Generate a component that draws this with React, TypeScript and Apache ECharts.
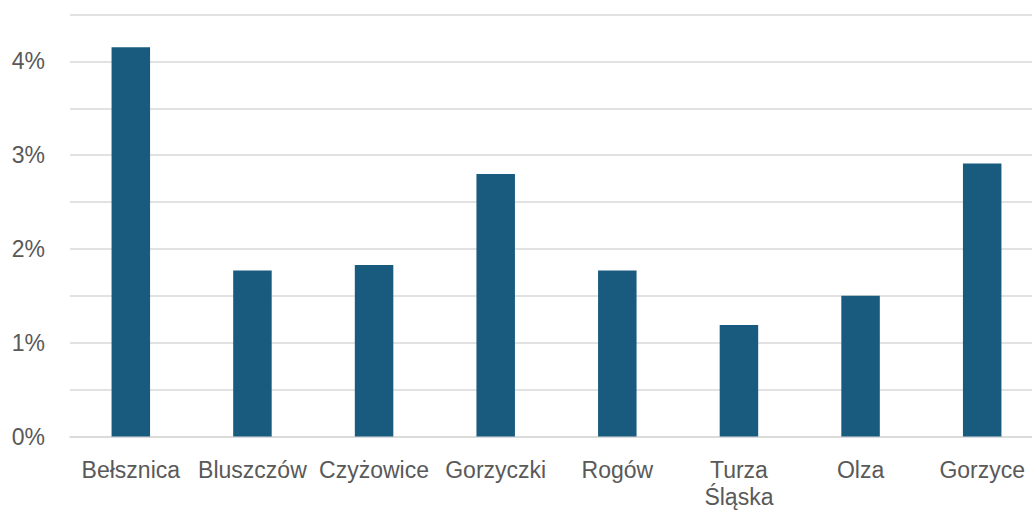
import React, { useEffect, useRef } from "react";
import * as echarts from "echarts";

const categories = ["Bełsznica", "Bluszczów", "Czyżowice", "Gorzyczki", "Rogów", "Turza\nŚląska", "Olza", "Gorzyce"];
const values = [4.15, 1.77, 1.83, 2.8, 1.77, 1.19, 1.5, 2.91];
const yTicks = { min: 0, max: 4.5, interval: 0.5 };

export default function App() {
  const ref = useRef<HTMLDivElement>(null);
  useEffect(() => {
    document.body.style.margin = "0";
    document.body.style.overflow = "hidden";
    const chart = echarts.init(ref.current!, null, { renderer: "svg" });
    chart.setOption({
      animation: false,
      backgroundColor: "#ffffff",
      grid: { left: 70, right: 0, top: 14.5, bottom: 78.5, containLabel: false },
      xAxis: {
        type: "category",
        data: categories,
        axisLine: { show: true, lineStyle: { color: "#d9d9d9", width: 1.5 } },
        axisTick: { show: false },
        axisLabel: {
          color: "#595959",
          fontFamily: "Liberation Sans",
          fontSize: 23,
          lineHeight: 27,
          margin: 20,
          interval: 0,
        },
      },
      yAxis: {
        type: "value",
        min: yTicks.min,
        max: yTicks.max,
        interval: yTicks.interval,
        axisLine: { show: false },
        axisTick: { show: false },
        splitLine: { lineStyle: { color: "#d9d9d9", width: 1.5 } },
        axisLabel: {
          color: "#595959",
          fontFamily: "Liberation Sans",
          fontSize: 23,
          margin: 25,
          formatter: (v: number) => (Math.abs(v - Math.round(v)) < 1e-9 ? `${Math.round(v)}%` : ""),
        },
      },
      series: [
        {
          type: "bar",
          data: values,
          barWidth: 38.5,
          itemStyle: { color: "#195b7e" },
        },
      ],
    });
    return () => chart.dispose();
  }, []);
  return <div ref={ref} style={{ position: "absolute", left: 0, top: 0, width: 1043, height: 515 }} />;
}
